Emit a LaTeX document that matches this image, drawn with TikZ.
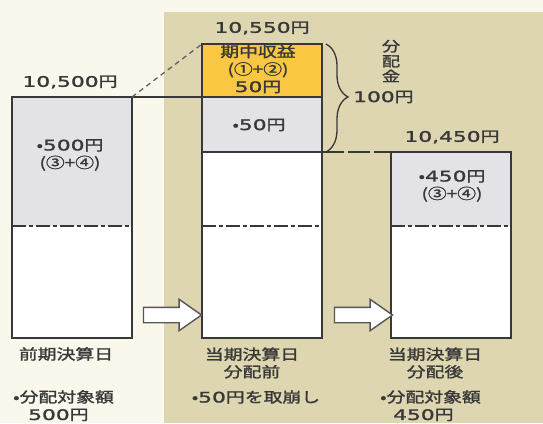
\documentclass[tikz,border=0pt]{standalone}
\usepackage{fontspec}
\newfontfamily\jpfont[FakeStretch=1.3, FakeBold=1.6]{Noto Sans CJK JP}
\newfontfamily\numfont[FakeStretch=1.5, FakeBold=1.6]{DejaVu Sans}
\usetikzlibrary{shapes.arrows,decorations.pathreplacing}

\definecolor{creambg}{HTML}{FAF8EC}
\definecolor{khakibg}{HTML}{DDD6B1}
\definecolor{barfill}{HTML}{E2E2E7}
\definecolor{gainfill}{HTML}{F9C742}
\definecolor{inkgray}{HTML}{383838}

\newcommand\amt[1]{{\numfont #1}円}

\tikzset{
  part/.style={minimum width=120pt, inner sep=0pt, outer sep=0pt, anchor=north},
  barline/.style={draw=inkgray, line width=1.4pt},
  divider/.style={draw=inkgray, line width=1.2pt, dash pattern=on 14pt off 3pt on 4pt off 3pt},
  lbl/.style={font=\jpfont\fontsize{14.5}{17.5}\selectfont, text=inkgray, inner sep=0pt, align=center},
  hollowarrow/.style={single arrow, draw=inkgray!85, line width=1.4pt, fill=white,
    minimum height=58pt, inner sep=7pt, single arrow head extend=8pt, single arrow tip angle=70},
}

\begin{document}
\begin{tikzpicture}[x=1pt, y=-1pt]
  \useasboundingbox (0,0) rectangle (543,423);
  % backgrounds
  \fill[creambg] (0,0) rectangle (543,423);
  \fill[khakibg] (164,12) rectangle (543,423);

  % previous day bar
  \node[part, fill=barfill, minimum height=129pt] (prevtop) at (72,97) {};
  \node[part, fill=white, minimum height=112pt] (prevbot) at (prevtop.south) {};
  \draw[barline] (prevtop.north west) rectangle (prevbot.south east);
  \draw[divider] (prevtop.south west) -- (prevtop.south east);

  % current day bar (before distribution)
  \node[part, fill=gainfill, minimum height=53pt] (midgain) at (262,44) {};
  \node[part, fill=barfill, minimum height=55pt] (midtop) at (midgain.south) {};
  \node[part, fill=white, minimum height=74pt] (midmid) at (midtop.south) {};
  \node[part, fill=white, minimum height=112pt] (midbot) at (midmid.south) {};
  \draw[barline] (midgain.north west) rectangle (midbot.south east);
  \draw[barline] (midtop.south west) -- (midtop.south east);
  \draw[divider] (midmid.south west) -- (midmid.south east);

  % current day bar (after distribution)
  \node[part, fill=barfill, minimum height=74pt] (nexttop) at (451,152) {};
  \node[part, fill=white, minimum height=112pt] (nextbot) at (nexttop.south) {};
  \draw[barline] (nexttop.north west) rectangle (nextbot.south east);
  \draw[divider] (nexttop.south west) -- (nexttop.south east);

  % connecting lines
  \draw[barline] (prevtop.north east) -- (midtop.north east);
  \draw[inkgray!80, line width=1.3pt, dash pattern=on 5pt off 4pt] (prevtop.north east) -- (midgain.north west);
  \draw[inkgray, line width=1.3pt, dash pattern=on 22pt off 4pt] (midtop.south east) -- (nexttop.north west);

  % brace
  \draw[inkgray, line width=1.3pt, decorate, decoration={brace, amplitude=22pt, aspect=0.49}]
    (326,44) -- (326,152);
  \node[lbl, anchor=west] (total) at (353,97) {\amt{100}};
  \node[lbl, font=\jpfont\fontsize{14}{15}\selectfont] (distlbl) at (391,61) {分\\配\\金};

  % arrows
  \node[hollowarrow] (arrowa) at (167,315) {};
  \node[hollowarrow] (arrowb) at (358,315) {};

  % values
  \node[lbl] (prevval) at (70,82) {\amt{10,500}};
  \node[lbl] (midval) at (262,28) {\amt{10,550}};
  \node[lbl] (nextval) at (452,137) {\amt{10,450}};
  \node[lbl] (gaintxt) at (258,69) {期中収益\\(①+②)\\\amt{50}};
  \node[lbl] (drawtxt) at (259,125) {•\amt{50}};
  \node[lbl] (prevtxt) at (70,155) {•\amt{500}\\(③+④)};
  \node[lbl] (nexttxt) at (452,186) {•\amt{450}\\(③+④)};

  % captions
  \node[lbl] (prevday) at (66,354) {前期決算日};
  \node[lbl] (midday) at (252,363) {当期決算日\\分配前};
  \node[lbl] (nextday) at (435,363) {当期決算日\\分配後};
  \node[lbl, align=left, anchor=north west] (prevnote) at (13,390) {•分配対象額\\\hspace*{15pt}\amt{500}};
  \node[lbl] (midnote) at (256,397) {•\amt{50}を取崩し};
  \node[lbl, align=left, anchor=north west] (nextnote) at (380,390) {•分配対象額\\\hspace*{13pt}\amt{450}};
\end{tikzpicture}
\end{document}
